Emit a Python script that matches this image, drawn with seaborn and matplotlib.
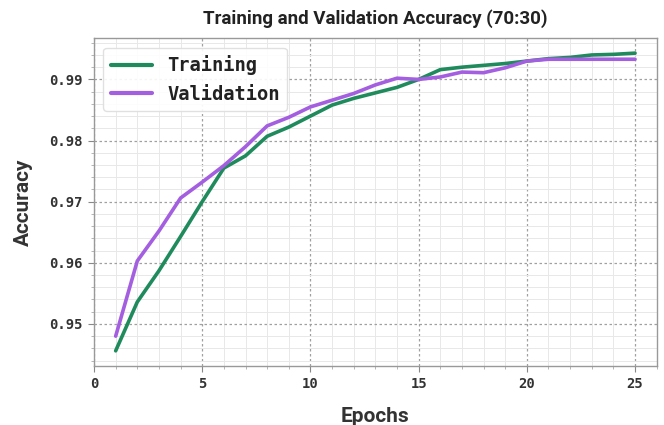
import numpy as np
import pandas as pd
import matplotlib
matplotlib.use("Agg")
import matplotlib.pyplot as plt
import seaborn as sns
from matplotlib.ticker import MultipleLocator

epochs = list(range(1, 26))
training = [0.9456, 0.9536, 0.9587, 0.9643, 0.9700, 0.9755, 0.9775, 0.9807, 0.9822, 0.9840,
            0.9858, 0.9869, 0.9878, 0.9887, 0.9900, 0.9916, 0.9920, 0.9923, 0.9926, 0.9930,
            0.9934, 0.9936, 0.9940, 0.9941, 0.9943]
validation = [0.9480, 0.9603, 0.9652, 0.9706, 0.9732, 0.9759, 0.9790, 0.9824, 0.9838, 0.9855,
              0.9866, 0.9877, 0.9891, 0.9902, 0.9900, 0.9904, 0.9912, 0.9911, 0.9919, 0.9930,
              0.9933, 0.9933, 0.9933, 0.9933, 0.9933]
series_names = ["Training", "Validation"]
title = "Training and Validation Accuracy (70:30)"

df = pd.DataFrame({
    "Epochs": epochs * 2,
    "Accuracy": training + validation,
    "Series": [series_names[0]] * len(epochs) + [series_names[1]] * len(epochs),
})

sns.set_theme(style="whitegrid")
mono = "DejaVu Sans Mono"
narrow = ["Liberation Sans Narrow", "Roboto", "DejaVu Sans"]

fig = plt.figure(figsize=(6.64, 4.25), dpi=100)
ax = fig.add_axes([0.1416, 0.1395, 0.8474, 0.7705])
ax.set_facecolor("white")

sns.lineplot(data=df, x="Epochs", y="Accuracy", hue="Series",
             palette=["#1f8b5c", "#a45ee0"], linewidth=2.6, ax=ax)

ax.set_xlim(0, 26)
ax.xaxis.set_major_locator(MultipleLocator(5))
ax.xaxis.set_minor_locator(MultipleLocator(1))
ax.yaxis.set_major_locator(MultipleLocator(0.01))
ax.yaxis.set_minor_locator(MultipleLocator(0.002))
ax.yaxis.set_major_formatter(matplotlib.ticker.FormatStrFormatter("%.2f"))

ax.grid(which="major", color="#a0a0a0", linestyle=(0, (2, 2)), linewidth=0.9)
ax.grid(which="minor", color="#e8e8e8", linestyle="-", linewidth=0.7)
ax.set_axisbelow(True)

for s in ax.spines.values():
    s.set_color("#999999")
    s.set_linewidth(1.0)

ax.tick_params(which="major", direction="out", length=4, width=0.8, color="#888888",
               left=True, bottom=True, labelsize=10, labelcolor="#333333", pad=4)
ax.tick_params(which="minor", direction="out", length=2, width=0.6, color="#aaaaaa",
               left=True, bottom=True)
for lab in ax.get_xticklabels() + ax.get_yticklabels():
    lab.set_family(mono)
    lab.set_fontweight("bold")

ax.set_xlabel("Epochs", family=narrow, fontsize=15, fontweight="bold", color="#333333", labelpad=12)
ax.set_ylabel("Accuracy", family=narrow, fontsize=15, fontweight="bold", color="#333333", labelpad=12)
ax.set_title(title, family=narrow, fontsize=13.5, fontweight="bold", color="#222222", pad=10)

leg = ax.legend(loc="upper left", prop={"family": mono, "size": 13.5, "weight": "bold"}, frameon=True,
                fancybox=True, framealpha=0.9, edgecolor="#dddddd", title=None,
                borderpad=0.4, handlelength=2.2)
for line in leg.get_lines():
    line.set_linewidth(3)
for t in leg.get_texts():
    t.set_color("#222222")

fig.savefig("out.png", dpi=100)
